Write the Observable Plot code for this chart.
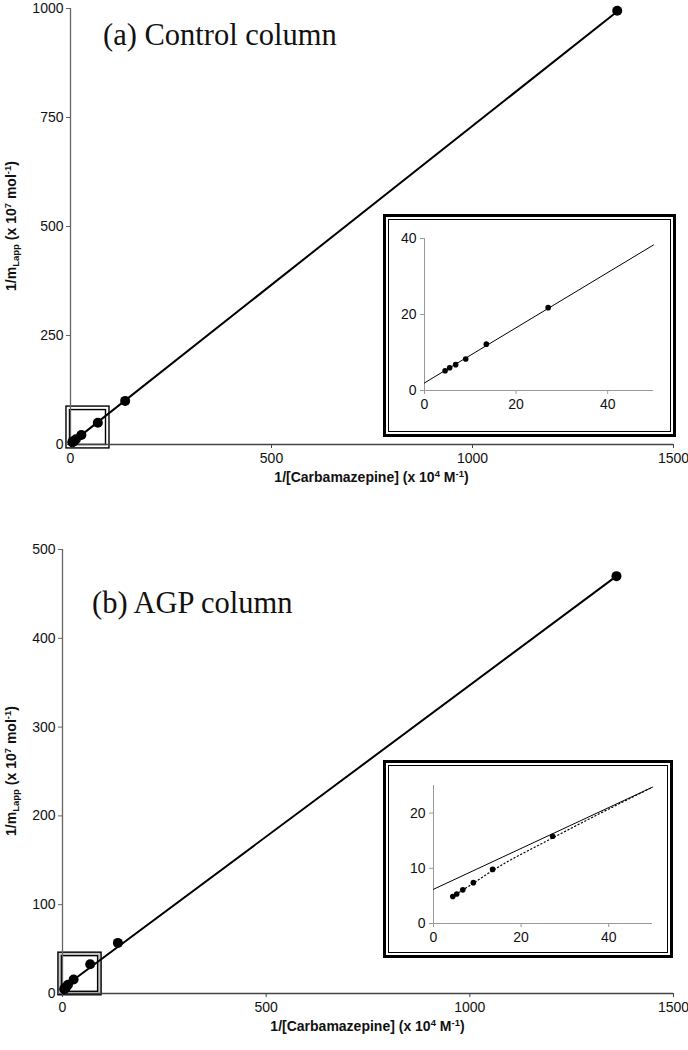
<!DOCTYPE html>
<html>
<head>
<meta charset="utf-8">
<script src="https://cdn.jsdelivr.net/npm/d3@7"></script>
<script src="https://cdn.jsdelivr.net/npm/@observablehq/plot@0.6"></script>
<style>
  html, body { margin: 0; padding: 0; background: #fff; }
  #wrap { position: relative; width: 688px; height: 1050px; overflow: hidden; font-family: "Liberation Sans", Arial, sans-serif; }
  .frame { position: absolute; box-sizing: border-box; border: 3px solid #000; pointer-events: none; }
  .frame > div { position: absolute; left: 2px; top: 2px; right: 2px; bottom: 2px; border: 1px solid #000; }
  svg text { fill: #111; }
</style>
</head>
<body>
<div id="wrap"></div>
<script>
// ---------- data ----------
// (a) Control column
const aX = [4.5, 5.5, 6.8, 9, 13.5, 27, 68, 136, 1360];
const aY = [5.2, 6.0, 6.8, 8.3, 12.2, 21.8, 50, 100, 995];
const aFitX = [0, 1360];
const aFitY = [2, 993];
const aInsetFitX = [0, 50];
const aInsetFitY = [2, 38.3];
const aBoxX = [-10, 97];
const aBoxY = [-9, 87];
const aYTicks = [0, 250, 500, 750, 1000];
const aInsetYTicks = [0, 20, 40];

// (b) AGP column
const bX = [4.4, 5.3, 6.7, 9.1, 13.5, 27.2, 68, 136, 1360];
const bY = [4.9, 5.35, 6.1, 7.4, 9.8, 15.8, 33, 57, 470];
const bFitX = [0, 1360];
const bFitY = [6.2, 470];
const bInsetFitX = [0, 50];
const bInsetFitY = [6.2, 24.7];
const bCurveX = [4.4, 9.1, 13.5, 27.2, 50];
const bCurveY = [4.9, 7.3, 9.6, 15.5, 24.7];
const bBoxX = [-10, 96];
const bBoxY = [-2, 46];
const bYTicks = [0, 100, 200, 300, 400, 500];
const bInsetYTicks = [0, 10, 20];

const xTicks = [0, 500, 1000, 1500];
const insetXTicks = [0, 20, 40];

const zip = (xs, ys) => xs.map((x, i) => ({x, y: ys[i]}));
const fmt = d => String(d);
const wrap = document.getElementById("wrap");

function addAxisTitles(svg, xc, xy, yc, yx) {
  const s = d3.select(svg);
  const xt = s.append("text").attr("x", xc).attr("y", xy).attr("text-anchor", "middle")
    .attr("font-family", "Liberation Sans, Arial, sans-serif").attr("font-weight", "bold").attr("font-size", 14);
  xt.append("tspan").text("1/[Carbamazepine] (x 10");
  xt.append("tspan").attr("dy", -5).attr("font-size", 9.5).text("4");
  xt.append("tspan").attr("dy", 5).text(" M");
  xt.append("tspan").attr("dy", -5).attr("font-size", 9.5).text("-1");
  xt.append("tspan").attr("dy", 5).text(")");
  const yt = s.append("text").attr("transform", `translate(${yx},${yc}) rotate(-90)`).attr("text-anchor", "middle")
    .attr("font-family", "Liberation Sans, Arial, sans-serif").attr("font-weight", "bold").attr("font-size", 14);
  yt.append("tspan").text("1/m");
  yt.append("tspan").attr("dy", 3).attr("font-size", 9.5).text("Lapp");
  yt.append("tspan").attr("dy", -3).text(" (x 10");
  yt.append("tspan").attr("dy", -5).attr("font-size", 9.5).text("7");
  yt.append("tspan").attr("dy", 5).text(" mol");
  yt.append("tspan").attr("dy", -5).attr("font-size", 9.5).text("-1");
  yt.append("tspan").attr("dy", 5).text(")");
}

function addTitle(svg, x, y, txt) {
  d3.select(svg).append("text").attr("x", x).attr("y", y).attr("text-anchor", "start")
    .attr("font-family", "Liberation Serif, Times New Roman, serif").attr("font-size", 30.5).text(txt);
}

function mainPanel({top, height, mt, mb, ml, mr, yMax, yTicks, X, Y, fitX, fitY, boxX, boxY, boxFill, title, titleX, titleY}) {
  const pts = zip(X, Y);
  const box = [{x1: boxX[0], x2: boxX[1], y1: boxY[0], y2: boxY[1]}];
  const svg = Plot.plot({
    width: 688, height,
    marginTop: mt, marginBottom: mb, marginLeft: ml, marginRight: mr,
    style: {fontFamily: "Liberation Sans, Arial, sans-serif", fontSize: "14px", background: "transparent", overflow: "visible"},
    x: {domain: [0, 1500]},
    y: {domain: [0, yMax]},
    marks: [
      Plot.rect(box, {x1: "x1", x2: "x2", y1: "y1", y2: "y2", fill: boxFill, stroke: "#000", strokeWidth: 1.4}),
      Plot.rect(box, {x1: "x1", x2: "x2", y1: "y1", y2: "y2", fill: "#fff", stroke: "#000", strokeWidth: 1.4, inset: 3.5}),
      Plot.ruleY([0], {x1: 0, x2: 1500, stroke: "#444", strokeWidth: 1.3}),
      Plot.ruleX([0], {y1: 0, y2: yMax, stroke: "#666", strokeWidth: 1.3}),
      Plot.axisX({ticks: xTicks, tickFormat: fmt, tickSize: 4, tickPadding: 5, label: null, stroke: "#444", fontSize: 14}),
      Plot.axisY({ticks: yTicks, tickFormat: fmt, tickSize: 4, tickPadding: 3, label: null, stroke: "#666", fontSize: 14}),
      Plot.line(zip(fitX, fitY), {x: "x", y: "y", stroke: "#000", strokeWidth: 2}),
      Plot.dot(pts, {x: "x", y: "y", r: 5, fill: "#000"})
    ]
  });
  svg.style.position = "absolute";
  svg.style.left = "0px";
  svg.style.top = top + "px";
  wrap.appendChild(svg);
  addAxisTitles(svg, ml + (688 - ml - mr) / 2, height - mb + 38, mt + (height - mt - mb) / 2, 16);
  addTitle(svg, titleX, titleY, title);
}

function inset({left, top, w, h, mt, mb, ml, mr, yMax, yTicks, X, Y, fitX, fitY, curveX, curveY}) {
  const marks = [
    Plot.ruleY([0], {x1: 0, x2: 50, stroke: "#999"}),
    Plot.ruleX([0], {y1: 0, y2: yMax, stroke: "#999"}),
    Plot.axisX({ticks: insetXTicks, tickFormat: fmt, tickSize: 4, tickPadding: 5, label: null, stroke: "#999", fontSize: 14}),
    Plot.axisY({ticks: yTicks, tickFormat: fmt, tickSize: 4, tickPadding: 4, label: null, stroke: "#999", fontSize: 14}),
    Plot.line(zip(fitX, fitY), {x: "x", y: "y", stroke: "#000", strokeWidth: 1})
  ];
  if (curveX) marks.push(Plot.line(zip(curveX, curveY), {x: "x", y: "y", stroke: "#000", strokeWidth: 1.2, strokeDasharray: "1.2,2.6", curve: "monotone-x"}));
  marks.push(Plot.dot(zip(X, Y), {x: "x", y: "y", r: 2.8, fill: "#000"}));
  const svg = Plot.plot({
    width: w, height: h,
    marginTop: mt, marginBottom: mb, marginLeft: ml, marginRight: mr,
    style: {fontFamily: "Liberation Sans, Arial, sans-serif", fontSize: "14px", background: "#fff"},
    x: {domain: [0, 50]},
    y: {domain: [0, yMax]},
    marks
  });
  svg.style.position = "absolute";
  svg.style.left = left + "px";
  svg.style.top = top + "px";
  wrap.appendChild(svg);
  const f = document.createElement("div");
  f.className = "frame";
  f.style.left = left + "px"; f.style.top = top + "px";
  f.style.width = w + "px"; f.style.height = h + "px";
  f.appendChild(document.createElement("div"));
  wrap.appendChild(f);
}

// Panel (a)
mainPanel({top: 0, height: 490, mt: 8, mb: 46, ml: 70, mr: 15, yMax: 1000, yTicks: aYTicks,
  X: aX, Y: aY, fitX: aFitX, fitY: aFitY, boxX: aBoxX, boxY: aBoxY, boxFill: "#fff",
  title: "(a) Control column", titleX: 103, titleY: 45});
inset({left: 383, top: 214, w: 293, h: 223, mt: 24, mb: 47, ml: 41, mr: 23, yMax: 40, yTicks: aInsetYTicks,
  X: aX.slice(0, 6), Y: aY.slice(0, 6), fitX: aInsetFitX, fitY: aInsetFitY});

// Panel (b)
mainPanel({top: 490, height: 560, mt: 59, mb: 57, ml: 62, mr: 15, yMax: 500, yTicks: bYTicks,
  X: bX, Y: bY, fitX: bFitX, fitY: bFitY, boxX: bBoxX, boxY: bBoxY, boxFill: "#c8c8c8",
  title: "(b) AGP column", titleX: 92, titleY: 123});
inset({left: 383, top: 760, w: 290, h: 198, mt: 25, mb: 35, ml: 50, mr: 21, yMax: 25, yTicks: bInsetYTicks,
  X: bX.slice(0, 6), Y: bY.slice(0, 6), fitX: bInsetFitX, fitY: bInsetFitY, curveX: bCurveX, curveY: bCurveY});
</script>
</body>
</html>
